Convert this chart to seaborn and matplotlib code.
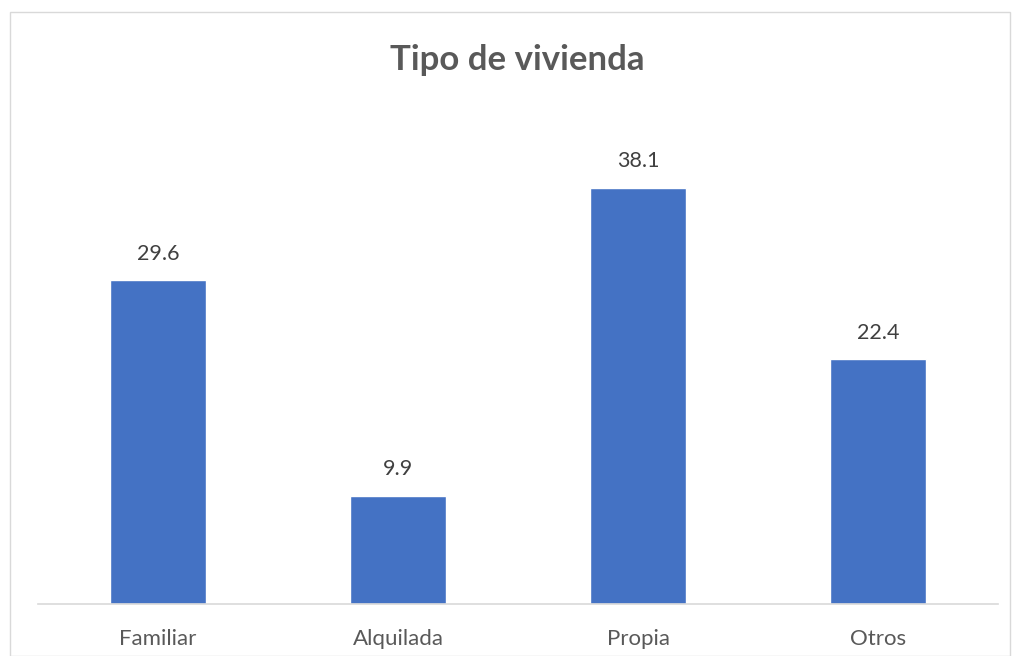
import matplotlib
matplotlib.use("Agg")
import matplotlib.pyplot as plt
import seaborn as sns
import pandas as pd
from matplotlib.patches import Rectangle

# data
categories = ["Familiar", "Alquilada", "Propia", "Otros"]
values = [29.6, 9.9, 38.1, 22.4]

df = pd.DataFrame({"tipo": categories, "pct": values})

sns.set_style("white")
plt.rcParams["font.family"] = ["Lato", "DejaVu Sans"]

fig = plt.figure(figsize=(10.13, 6.56), dpi=100)
ax = fig.add_axes([0.0375, 0.0793, 0.9477, 0.7497])

sns.barplot(data=df, x="tipo", y="pct", color="#4472C4", width=0.4,
            saturation=1, ax=ax)

for i, v in enumerate(values):
    ax.text(i, v + 1.5, f"{v:.1f}", ha="center", va="bottom",
            fontsize=15.5, color="#404040")

ax.set_ylim(0, 45)
ax.set_xlim(-0.5, 3.5)
ax.set_xlabel("")
ax.set_ylabel("")
ax.set_yticks([])
ax.tick_params(axis="x", length=0, labelsize=16, labelcolor="#595959", pad=18)
for side in ["top", "left", "right"]:
    ax.spines[side].set_visible(False)
ax.spines["bottom"].set_color("#d9d9d9")
ax.spines["bottom"].set_linewidth(1.2)

fig.text(0.511, 0.909, "Tipo de vivienda", ha="center", va="center",
         fontsize=25, fontweight="bold", color="#595959")

# chart border
fig.patches.append(Rectangle((0.01, 0.0), 0.987, 0.982, transform=fig.transFigure,
                             fill=False, edgecolor="#d9d9d9", linewidth=1))

fig.savefig("out.png", dpi=100)
